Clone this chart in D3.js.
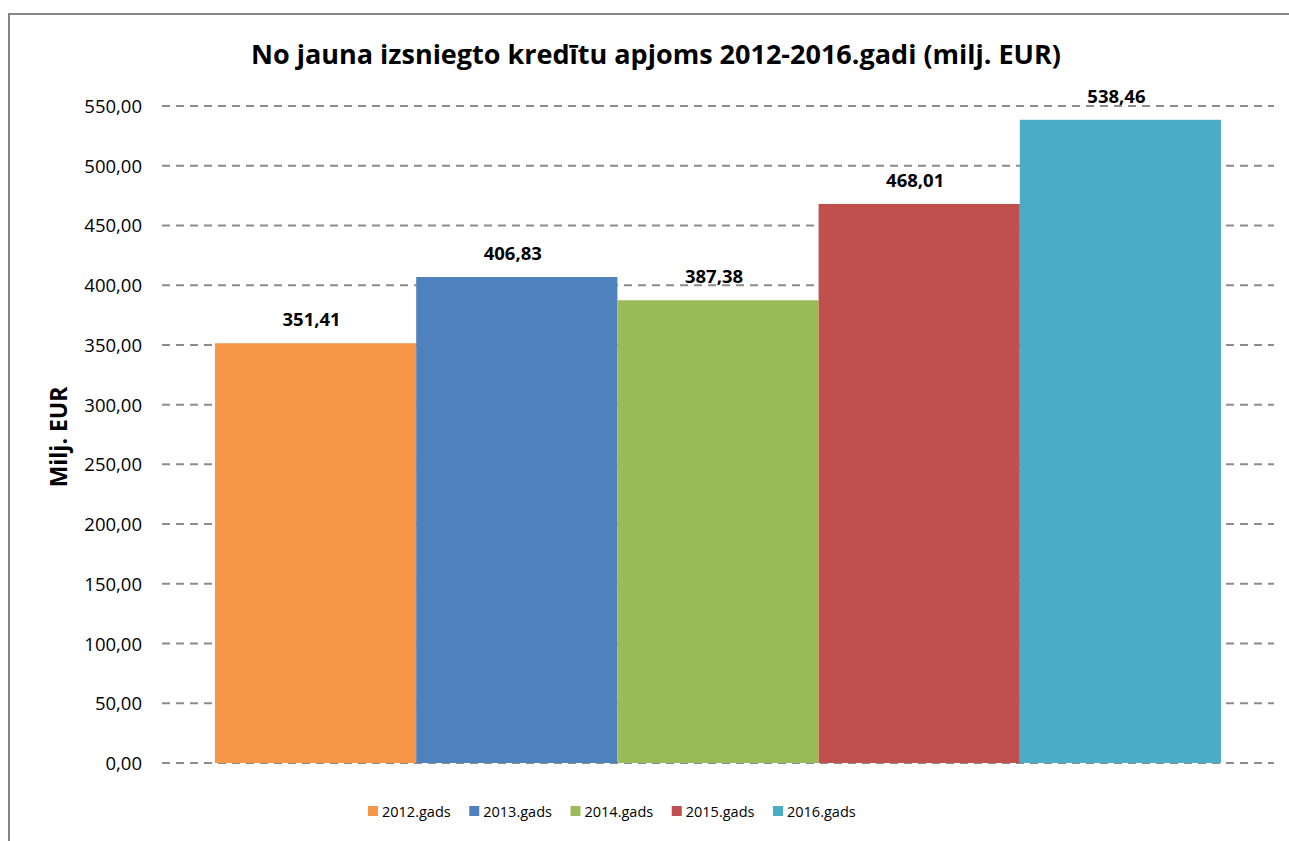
<!DOCTYPE html>
<html>
<head>
<meta charset="utf-8">
<script src="https://cdn.jsdelivr.net/npm/d3@7/dist/d3.min.js"></script>
<style>
  html, body { margin: 0; padding: 0; background: #fff; }
  svg { display: block; }
  text { font-family: "Open Sans", Lato, "Liberation Sans", sans-serif; fill: #000; }
</style>
</head>
<body>
<svg id="chart" width="1289" height="841"></svg>
<script>
const chartTitle = "No jauna izsniegto kredītu apjoms 2012-2016.gadi (milj. EUR)";
const yAxisTitle = "Milj. EUR";
const seriesNames = ["2012.gads", "2013.gads", "2014.gads", "2015.gads", "2016.gads"];
const seriesValues = [351.41, 406.83, 387.38, 468.01, 538.46];
const seriesColors = ["#F79646", "#4F81BD", "#9BBB59", "#C0504D", "#4BACC6"];
const yTicks = [0, 50, 100, 150, 200, 250, 300, 350, 400, 450, 500, 550];

const fmt = v => v.toFixed(2).replace(".", ",");

const svg = d3.select("#chart");

// outer border (chart area)
svg.append("rect")
  .attr("x", 9).attr("y", 14)
  .attr("width", 1300).attr("height", 900)
  .attr("fill", "#fff")
  .attr("stroke", "#868686").attr("stroke-width", 2);

const plot = { left: 162, right: 1274, top: 106, bottom: 763 };

const y = d3.scaleLinear().domain([0, 550]).range([plot.bottom, plot.top]);
const x = d3.scaleBand().domain(seriesNames).range([215, 1221]).padding(0);

// gridlines
svg.append("g").selectAll("line")
  .data(yTicks)
  .join("line")
  .attr("x1", plot.left).attr("x2", plot.right)
  .attr("y1", d => y(d)).attr("y2", d => y(d))
  .attr("stroke", "#8c8c8c")
  .attr("stroke-width", 2)
  .attr("stroke-dasharray", "8,6");

// y axis labels
const yAxis = d3.axisLeft(y).tickValues(yTicks).tickFormat(fmt).tickSize(0).tickPadding(0);
const gy = svg.append("g").attr("transform", `translate(142,0)`).call(yAxis);
gy.select(".domain").remove();
gy.selectAll("text")
  .attr("font-family", "'Open Sans', Lato, sans-serif")
  .attr("font-size", 18.5)
  .attr("fill", "#000")
  .attr("dy", "0.35em");

// bars
svg.append("g").selectAll("rect")
  .data(seriesNames)
  .join("rect")
  .attr("x", d => x(d))
  .attr("width", x.bandwidth())
  .attr("y", (d, i) => y(seriesValues[i]))
  .attr("height", (d, i) => y(0) - y(seriesValues[i]))
  .attr("fill", (d, i) => seriesColors[i]);

// data labels
svg.append("g").selectAll("text")
  .data(seriesNames)
  .join("text")
  .attr("x", d => x(d) + x.bandwidth() / 2 - 4)
  .attr("y", (d, i) => y(seriesValues[i]) - 17)
  .attr("text-anchor", "middle")
  .attr("font-weight", "bold")
  .attr("font-size", 18.5)
  .text((d, i) => fmt(seriesValues[i]));

// title
svg.append("text")
  .attr("x", 656).attr("y", 64)
  .attr("text-anchor", "middle")
  .attr("font-weight", "bold")
  .attr("font-size", 27)
  .text(chartTitle);

// y axis title
svg.append("text")
  .attr("transform", "translate(67,437) rotate(-90)")
  .attr("text-anchor", "middle")
  .attr("font-weight", "bold")
  .attr("font-size", 23)
  .text(yAxisTitle);

// legend
const legendX = d3.scalePoint().domain(seriesNames).range([368, 773]);
const leg = svg.append("g").selectAll("g")
  .data(seriesNames)
  .join("g")
  .attr("transform", d => `translate(${legendX(d)},806)`);
leg.append("rect")
  .attr("width", 10).attr("height", 10)
  .attr("fill", (d, i) => seriesColors[i]);
leg.append("text")
  .attr("x", 14).attr("y", 11)
  .attr("font-size", 14.5)
  .text(d => d);
</script>
</body>
</html>
